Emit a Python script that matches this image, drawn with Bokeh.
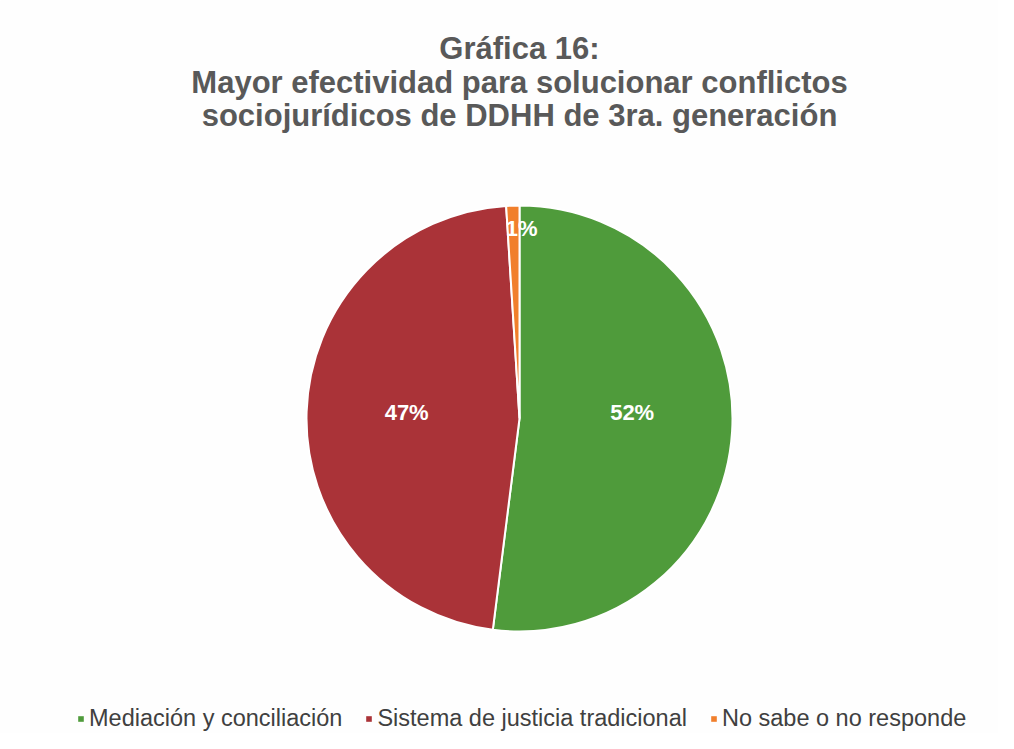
import math
from bokeh.plotting import figure
from bokeh.models import Range1d, ColumnDataSource, Legend, LegendItem
from bokeh.core.properties import value
from bokeh.embed import file_html
from bokeh.resources import INLINE

title_lines = ["Gráfica 16:", "Mayor efectividad para solucionar conflictos",
               "sociojurídicos de DDHH de 3ra. generación"]
categories = ["Mediación y conciliación", "Sistema de justicia tradicional", "No sabe o no responde"]
values = [52, 47, 1]
labels = ["52%", "47%", "1%"]
colors = ["#4f9b3b", "#aa3338", "#f17f2c"]

W, H = 998, 733
# data coordinates = screen pixels (y measured upward from the bottom of a 749px window)
p = figure(width=W, height=H, output_backend="svg", toolbar_location=None,
           x_range=Range1d(0, 998), y_range=Range1d(16, 749), min_border=0)
p.axis.visible = False
p.grid.visible = False
p.outline_line_color = None
p.background_fill_color = "#fefefe"
p.border_fill_color = "#fefefe"

cx, cy, r = 519, 749 - 418, 213
total = sum(values)
starts, ends, lx, ly = [], [], [], []
cum = 0.0
for v in values:
    a0 = math.pi / 2 - 2 * math.pi * cum / total
    cum += v
    a1 = math.pi / 2 - 2 * math.pi * cum / total
    starts.append(a0)
    ends.append(a1)
    mid = (a0 + a1) / 2
    if v / total > 0.05:
        lx.append(cx + 0.53 * r * math.cos(mid))
        ly.append(cy + 6)
    else:
        lx.append(cx + 0.89 * r * math.cos(mid) + 8)
        ly.append(cy + 0.89 * r * math.sin(mid) + 1)

src = ColumnDataSource(dict(start=starts, end=ends, color=colors, cat=categories,
                            lx=lx, ly=ly, lab=labels))
for i in range(len(values)):
    p.wedge(x=cx, y=cy, radius=r, start_angle=starts[i], end_angle=ends[i],
            direction="clock", fill_color=colors[i], line_color="white", line_width=2)

# legend swatches (NaN quads: not drawn in the plot, drawn as filled squares in the legend)
nan = float("nan")
swatches = [p.quad(left=[nan], right=[nan], top=[nan], bottom=[nan], fill_color=c, line_color=None)
            for c in colors]

p.text(x="lx", y="ly", text="lab", source=src, text_color="white",
       text_font=value("Liberation Sans"), text_font_style="bold", text_font_size="22px",
       text_align="center", text_baseline="middle")

ty = [749 - 48, 749 - 82, 749 - 115]
p.text(x=[519] * 3, y=ty, text=title_lines, text_color="#595959",
       text_font=value("Liberation Sans"), text_font_style="bold", text_font_size="31px",
       text_align="center", text_baseline="middle")

legend = Legend(items=[LegendItem(label=categories[i], renderers=[swatches[i]]) for i in range(3)],
                orientation="horizontal", location=(77, 1), glyph_width=7, glyph_height=7,
                label_standoff=5, spacing=23, label_text_font="Liberation Sans",
                label_text_font_size="23.5px", label_text_color="#404040",
                background_fill_alpha=0, border_line_color=None, padding=0, margin=0)
p.add_layout(legend)

open("out.html", "w").write(file_html(p, INLINE))
